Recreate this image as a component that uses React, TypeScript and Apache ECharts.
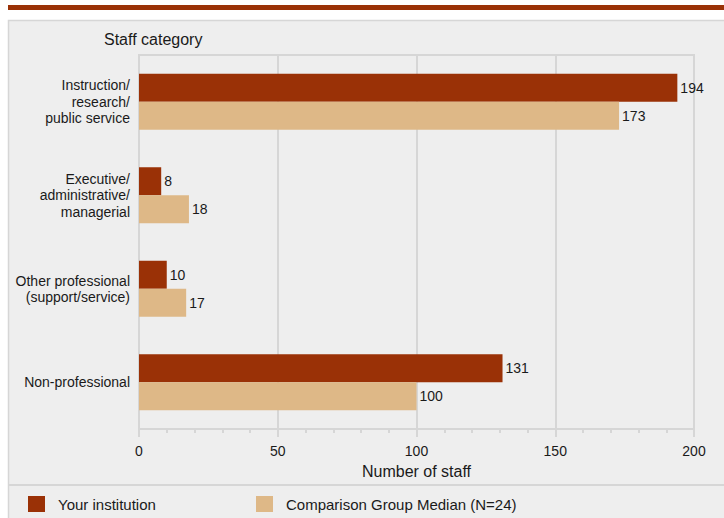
import React, { useEffect, useRef } from "react";
import * as echarts from "echarts";

const categories = [
  "Instruction/\nresearch/\npublic service",
  "Executive/\nadministrative/\nmanagerial",
  "Other professional\n(support/service)",
  "Non-professional",
];
const yourInstitution = [194, 8, 10, 131];
const comparisonMedian = [173, 18, 17, 100];
const seriesNames = ["Your institution", "Comparison Group Median (N=24)"];
const xTicks = { min: 0, max: 200, interval: 50 };

const FONT = "'Liberation Sans', Arial, Helvetica, sans-serif";
const DARK = "#9a3106";
const LIGHT = "#deb887";
const LINE = "#d6d6d6";
const TEXT = "#1a1a1a";

export default function App() {
  const ref = useRef<HTMLDivElement>(null);
  useEffect(() => {
    if (!ref.current) return;
    const chart = echarts.init(ref.current, undefined, { renderer: "svg" });
    const legendBase = {
      top: 496,
      itemWidth: 17,
      itemHeight: 16,
      icon: "rect",
      itemGap: 0,
      padding: 0,
      textStyle: { fontSize: 15, color: TEXT, fontFamily: FONT, padding: [0, 0, 0, 8] },
      selectedMode: false,
    };
    chart.setOption({
      animation: false,
      backgroundColor: "#ffffff",
      textStyle: { fontFamily: FONT },
      grid: {
        left: 139,
        right: 30,
        top: 55,
        bottom: 89,
        show: true,
        borderColor: LINE,
        borderWidth: 2,
        backgroundColor: "transparent",
        containLabel: false,
      },
      legend: [
        { ...legendBase, data: [seriesNames[0]], left: 28 },
        { ...legendBase, data: [seriesNames[1]], left: 256 },
      ],
      xAxis: {
        type: "value",
        min: xTicks.min,
        max: xTicks.max,
        interval: xTicks.interval,
        name: "Number of staff",
        nameLocation: "middle",
        nameGap: 34,
        nameTextStyle: { fontSize: 16, color: TEXT, fontFamily: FONT },
        axisLine: { show: true, lineStyle: { color: LINE, width: 2 } },
        axisTick: { show: true, length: 8, lineStyle: { color: LINE, width: 2 } },
        minorTick: { show: true, splitNumber: 5, length: 4, lineStyle: { color: LINE, width: 2 } },
        splitLine: { show: true, lineStyle: { color: LINE, width: 2 } },
        axisLabel: { fontSize: 14, color: TEXT, margin: 15, fontFamily: FONT },
      },
      yAxis: {
        type: "category",
        inverse: true,
        data: categories,
        axisLine: { show: true, lineStyle: { color: LINE, width: 2 } },
        axisTick: { show: false },
        axisLabel: {
          fontSize: 14,
          color: TEXT,
          margin: 9,
          lineHeight: 16.5,
          align: "right",
          fontFamily: FONT,
        },
      },
      series: [
        {
          name: seriesNames[0],
          type: "bar",
          data: yourInstitution,
          barWidth: 28,
          barGap: "0%",
          itemStyle: { color: DARK },
          label: { show: true, position: "right", distance: 3, fontSize: 14, color: TEXT, fontFamily: FONT },
        },
        {
          name: seriesNames[1],
          type: "bar",
          data: comparisonMedian,
          barWidth: 28,
          barGap: "0%",
          itemStyle: { color: LIGHT },
          label: { show: true, position: "right", distance: 3, fontSize: 14, color: TEXT, fontFamily: FONT },
        },
      ],
      graphic: [
        {
          type: "rect",
          z: -100,
          shape: { x: 8.5, y: 20.5, width: 730, height: 510 },
          style: { fill: "#eeeeee", stroke: LINE, lineWidth: 1.5 },
          silent: true,
        },
        {
          type: "rect",
          z: 10,
          shape: { x: 8, y: 5, width: 716, height: 5 },
          style: { fill: DARK },
          silent: true,
        },
        {
          type: "line",
          z: 10,
          shape: { x1: 8, y1: 485, x2: 724, y2: 485 },
          style: { stroke: LINE, lineWidth: 2 },
          silent: true,
        },
        {
          type: "text",
          z: 10,
          x: 104,
          y: 39,
          style: {
            text: "Staff category",
            fontSize: 16,
            fill: TEXT,
            fontFamily: FONT,
            verticalAlign: "middle",
            align: "left",
          },
          silent: true,
        },
      ],
    });
    return () => chart.dispose();
  }, []);
  return (
    <div
      ref={ref}
      style={{ position: "absolute", left: 0, top: 0, width: 724, height: 518 }}
    />
  );
}
